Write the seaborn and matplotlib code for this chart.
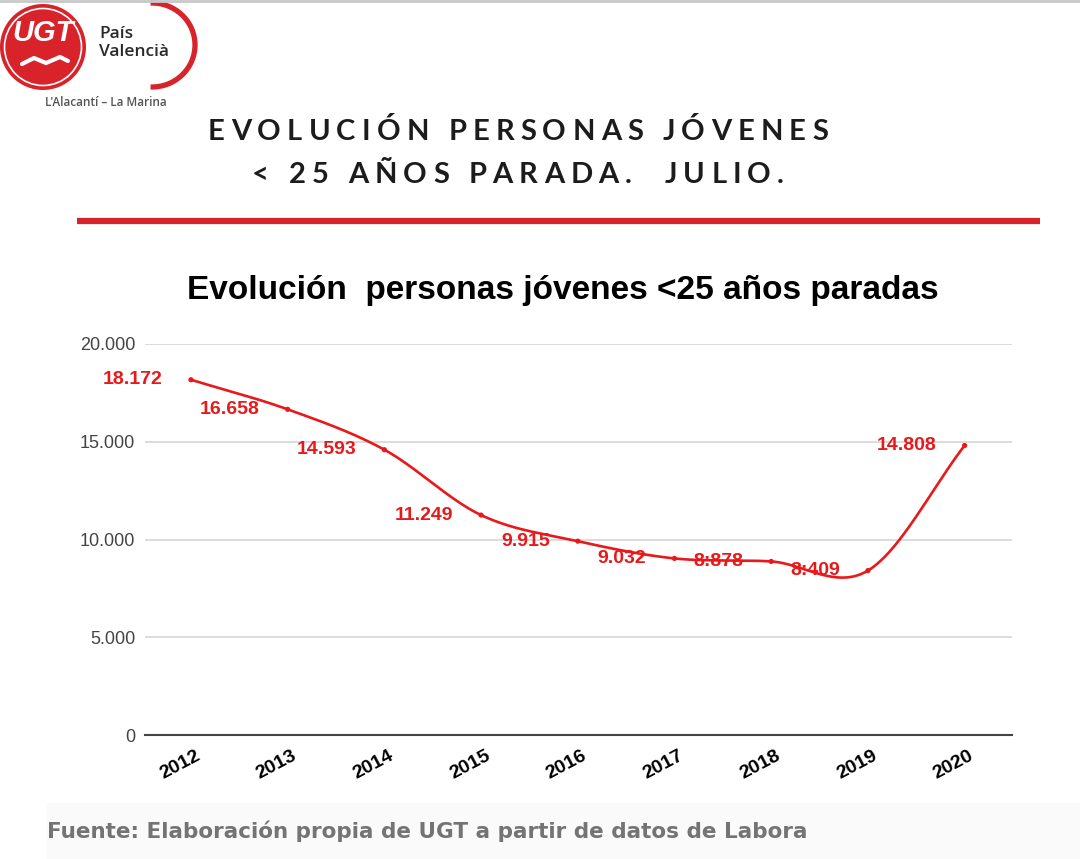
import numpy as np
import pandas as pd
import matplotlib
matplotlib.use("Agg")
import matplotlib.pyplot as plt
import seaborn as sns
from matplotlib.patches import Circle, Arc, Rectangle
from matplotlib.ticker import FuncFormatter
from matplotlib import transforms

# Datos del gráfico (julio de cada año)
anios = ["2012", "2013", "2014", "2015", "2016", "2017", "2018", "2019", "2020"]
parados = [18172, 16658, 14593, 11249, 9915, 9032, 8878, 8409, 14808]
etiquetas = ["18.172", "16.658", "14.593", "11.249", "9.915", "9.032", "8:878", "8:409", "14.808"]
ticks_y = [0, 5000, 10000, 15000, 20000]

df = pd.DataFrame({"pos": np.arange(len(anios)), "anio": anios, "parados": parados})

ROJO = "#e8191b"
ROJO_UGT = "#d8232a"
W, H = 1080, 859

sns.set_theme(style="white")
plt.rcParams["font.family"] = ["Liberation Sans", "DejaVu Sans"]


def suavizar(y, n=40):
    # curva suave tipo Catmull-Rom que pasa por los puntos (como la línea suavizada de la hoja de cálculo)
    y = np.asarray(y, float)
    m = np.gradient(y)
    xs, ys = [], []
    for i in range(len(y) - 1):
        t = np.linspace(0, 1, n, endpoint=False)
        h00 = 2 * t**3 - 3 * t**2 + 1
        h10 = t**3 - 2 * t**2 + t
        h01 = -2 * t**3 + 3 * t**2
        h11 = t**3 - t**2
        ys.append(h00 * y[i] + h10 * m[i] + h01 * y[i + 1] + h11 * m[i + 1])
        xs.append(i + t)
    xs.append([len(y) - 1])
    ys.append([y[-1]])
    return np.concatenate(xs), np.concatenate(ys)


fig = plt.figure(figsize=(W / 100, H / 100), dpi=100)
fig.patch.set_facecolor("white")

# capa de fondo en coordenadas de píxel
bg = fig.add_axes([0, 0, 1, 1])
bg.set_xlim(0, W)
bg.set_ylim(H, 0)
bg.axis("off")

bg.plot([0, W], [1, 1], color="#c8c8c8", lw=2)
bg.add_patch(Rectangle((47, 803), W - 47, 56, color="#fafafa", lw=0))

# logo UGT (aproximado)
bg.add_patch(Circle((43, 47), 43, color=ROJO_UGT, lw=0))
bg.add_patch(Circle((43, 47), 38.5, fill=False, ec="white", lw=1.2))
bg.text(43, 33, "UGT", color="white", fontsize=21, fontweight="bold", style="italic",
        family=["Liberation Sans Narrow", "Liberation Sans"], ha="center", va="center")
bg.plot([22, 34, 46, 60, 68], [64, 58, 63, 57, 61], color="white", lw=3, solid_capstyle="round")
bg.add_patch(Arc((152, 45), 86, 84, theta1=-92, theta2=92, color=ROJO_UGT, lw=3.8))
bg.text(99, 34, "País", color="#2a2a2a", fontsize=12.5, fontweight="semibold", family="Open Sans", va="center")
bg.text(99, 52, "Valencià", color="#2a2a2a", fontsize=12.5, fontweight="semibold", family="Open Sans", va="center")
bg.text(106, 103, "L'Alacantí – La Marina", color="#555555", fontsize=8.5, fontweight="semibold",
        family="Open Sans", ha="center", va="center")

# título con espaciado entre letras
renderer = fig.canvas.get_renderer()


def ancho(s, **kw):
    t = bg.text(0, 0, s + "|", **kw)
    w1 = t.get_window_extent(renderer).width
    t.remove()
    t = bg.text(0, 0, "|", **kw)
    w2 = t.get_window_extent(renderer).width
    t.remove()
    return w1 - w2


estilo_tit = dict(fontsize=21, fontweight="bold", family="Lato", color="#1c1c1c")
lineas = ["EVOLUCIÓN PERSONAS JÓVENES", "< 25 AÑOS PARADA.  JULIO."]
ys_tit = [132, 175]
esp = max(0.0, (620 - ancho(lineas[0], **estilo_tit)) / (len(lineas[0]) - 1))
for linea, yy in zip(lineas, ys_tit):
    total = ancho(linea, **estilo_tit) + esp * (len(linea) - 1)
    x0 = 518 - total / 2
    for i, ch in enumerate(linea):
        xi = x0 + ancho(linea[:i], **estilo_tit) + esp * i
        bg.text(xi, yy, ch, ha="left", va="center", **estilo_tit)

bg.plot([77, 1040], [221, 221], color=ROJO_UGT, lw=4.5, solid_capstyle="butt")

bg.text(563, 290, "Evolución  personas jóvenes <25 años paradas", ha="center", va="center",
        fontsize=24, fontweight="bold", color="black")

bg.text(47, 831, "Fuente: Elaboración propia de UGT a partir de datos de Labora", ha="left", va="center",
        fontsize=15.5, fontweight="bold", family="DejaVu Sans", color="#747474")

# gráfico
ax = fig.add_axes([145 / W, 1 - 735 / H, (1012 - 145) / W, (735 - 344) / H])
ax.set_facecolor("none")
xs, ys = suavizar(df["parados"])
ax.plot(xs, ys, color=ROJO, lw=1.9, zorder=3)
sns.scatterplot(data=df, x="pos", y="parados", color=ROJO, s=14, edgecolor="none", zorder=4, ax=ax)

for p, v, lab in zip(df["pos"], df["parados"], etiquetas):
    ax.annotate(lab, (p, v), xytext=(-28, 0), textcoords="offset pixels", ha="right", va="center",
                fontsize=14, fontweight="bold", color=ROJO, zorder=5)

ax.set_xlim(-0.475, 8.49)
ax.set_ylim(0, 20000)
ax.set_yticks(ticks_y)
ax.yaxis.set_major_formatter(FuncFormatter(lambda v, _: f"{int(v):,}".replace(",", ".")))
ax.grid(axis="y", color="#d6d6d6", lw=1.2)
ax.grid(axis="x", visible=False)
ax.set_xticks(df["pos"])
ax.tick_params(axis="y", labelsize=13, labelcolor="#444444", length=0, pad=7)
ax.tick_params(axis="x", length=0, pad=9)
ax.set_xticklabels(anios, rotation=28, fontsize=14, fontweight="bold", color="black", ha="center")
off = transforms.ScaledTranslation(-11 / 100, 0, fig.dpi_scale_trans)
for lab in ax.get_xticklabels():
    lab.set_transform(lab.get_transform() + off)
for s in ["top", "right", "left"]:
    ax.spines[s].set_visible(False)
ax.spines["bottom"].set_color("#444444")
ax.spines["bottom"].set_linewidth(1.5)
ax.set_xlabel("")
ax.set_ylabel("")

fig.savefig("out.png", dpi=100)
